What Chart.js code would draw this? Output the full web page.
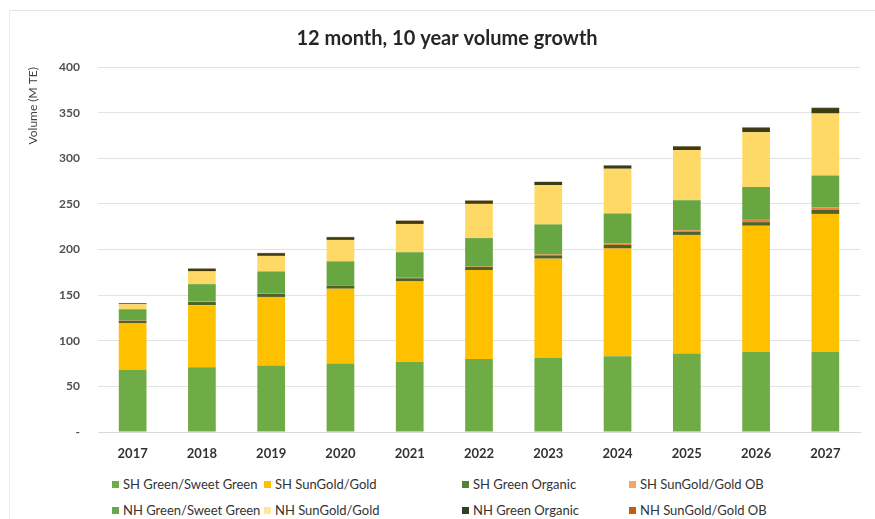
<!DOCTYPE html>
<html>
<head>
<meta charset="utf-8">
<script src="https://cdn.jsdelivr.net/npm/chart.js@4.4.0/dist/chart.umd.min.js"></script>
<style>
  html, body { margin: 0; padding: 0; background: #fff; }
  #wrap { position: relative; width: 875px; height: 519px; overflow: hidden; }
  #frame { position: absolute; left: 9px; top: 10px; width: 880px; height: 520px;
           border-top: 1px solid #e4e4e4; border-left: 1px solid #ececec; }
  #chart { position: absolute; left: 0; top: 0; }
  #legend { position: absolute; left: 0; top: 474px; width: 875px; font-family: Lato, sans-serif;
            font-size: 13px; color: #333; }
  .item { position: absolute; white-space: nowrap; line-height: 20px; }
  .box { display: inline-block; width: 7px; height: 7px; margin-right: 4px; vertical-align: 1px; }
</style>
</head>
<body>
<div id="wrap">
  <div id="frame"></div>
  <canvas id="chart" width="875" height="470"></canvas>
  <div id="legend"></div>
</div>
<script>
const years = ['2017', '2018', '2019', '2020', '2021', '2022', '2023', '2024', '2025', '2026', '2027'];
const yTicks = [0, 50, 100, 150, 200, 250, 300, 350, 400];

// volumes in M TE, stacked bottom to top
const shGreen        = [68, 71, 73, 75, 77, 80, 81, 83, 86, 88, 88];
const shSunGold      = [51, 68, 75, 82, 88, 97.5, 109, 118, 130, 138, 151];
const shGreenOrganic = [3, 3.5, 3.5, 3.5, 3.5, 3.5, 3.5, 4, 3.5, 4, 4.5];
const shSunGoldOB    = [0.5, 0.5, 0.5, 0.5, 0.5, 0.5, 1, 1.5, 1.5, 2.5, 2.5];
const nhGreen        = [12, 19, 24, 26, 28, 31, 33, 33, 33, 36, 35];
const nhSunGold      = [5.5, 14, 17, 23.5, 31, 37.5, 43, 49, 55, 60, 68];
const nhGreenOrganic = [1, 3, 3, 3, 3.5, 3.5, 3.5, 3.5, 4, 5, 6];
const nhSunGoldOB    = [0.3, 0.3, 0.3, 0.3, 0.3, 0.3, 0.3, 0.3, 0.3, 0.5, 0.5];

const series = [
    { label: 'SH Green/Sweet Green', data: shGreen,        color: '#6fac46', key: '#70ad47' },
    { label: 'SH SunGold/Gold',      data: shSunGold,      color: '#ffc000', key: '#ffc000' },
    { label: 'SH Green Organic',     data: shGreenOrganic, color: '#4f6228', key: '#548235' },
    { label: 'SH SunGold/Gold OB',   data: shSunGoldOB,    color: '#ee7f3a', key: '#f2a66e' },
    { label: 'NH Green/Sweet Green', data: nhGreen,        color: '#67a641', key: '#6aa84f' },
    { label: 'NH SunGold/Gold',      data: nhSunGold,      color: '#ffd966', key: '#ffe699' },
    { label: 'NH Green Organic',     data: nhGreenOrganic, color: '#3b3b14', key: '#333f1f' },
    { label: 'NH SunGold/Gold OB',   data: nhSunGoldOB,    color: '#c55a11', key: '#c55a11' },
];

const chart = new Chart(document.getElementById('chart'), {
    type: 'bar',
    data: {
        labels: years,
        datasets: series.map(s => ({
            label: s.label,
            data: s.data,
            backgroundColor: s.color,
            borderWidth: 0,
            barPercentage: 0.5,
            categoryPercentage: 0.8,
        })),
    },
    options: {
        responsive: false,
        animation: false,
        // left padding pushes the title centre right; the y axis box is narrowed to match
        layout: { padding: { left: 34, right: 15, top: 0, bottom: 0 } },
        plugins: {
            legend: { display: false },
            tooltip: { enabled: false },
            title: {
                display: true,
                text: '12 month, 10 year volume growth',
                color: '#262626',
                font: { family: 'Lato', size: 20, weight: 'bold' },
                padding: { top: 27, bottom: 16 },
            },
        },
        scales: {
            x: {
                stacked: true,
                grid: { display: false },
                border: { display: true, color: '#d9d9d9' },
                ticks: {
                    color: '#333',
                    font: { family: 'Lato', size: 13, weight: 'bold' },
                    padding: 6,
                    maxRotation: 0,
                },
                afterFit: scale => { scale.height = 38; },
            },
            y: {
                stacked: true,
                min: 0,
                max: 400,
                afterBuildTicks: scale => { scale.ticks = yTicks.map(v => ({ value: v })); },
                grid: { color: '#e3e3e3', drawTicks: false },
                border: { display: false },
                ticks: {
                    color: '#505050',
                    font: { family: 'Lato', size: 12, weight: 'bold' },
                    padding: 18,
                    callback: v => (v === 0 ? '-' : v),
                },
                title: {
                    display: true,
                    text: 'Volume (M TE)',
                    align: 'end',
                    color: '#404040',
                    font: { family: 'Lato', size: 12 },
                    padding: { top: -8, bottom: 0 },
                },
                afterFit: scale => { scale.width = 64; },
            },
        },
    },
});

// legend: two rows of four, laid out on fixed columns
const cols = [112, 264, 462, 629];
const legend = document.getElementById('legend');
chart.data.datasets.forEach((ds, i) => {
    const item = document.createElement('div');
    item.className = 'item';
    item.style.left = cols[i % 4] + 'px';
    item.style.top = (Math.floor(i / 4) * 26) + 'px';
    item.innerHTML = '<span class="box" style="background:' + series[i].key + '"></span>' + ds.label;
    legend.appendChild(item);
});
</script>
</body>
</html>
